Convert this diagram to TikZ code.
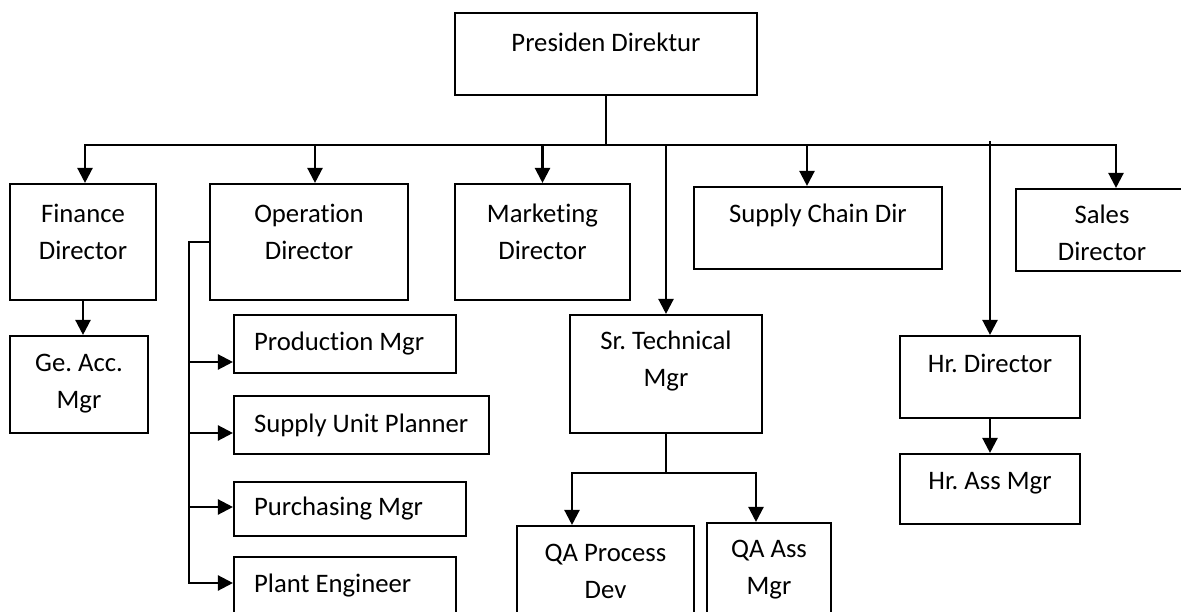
\documentclass[tikz,border=0pt]{standalone}
\usepackage{fontspec}
\setmainfont{Carlito}[Ligatures=NoCommon]
\usetikzlibrary{arrows.meta}
\frenchspacing

\begin{document}
\begin{tikzpicture}[x=1pt, y=-1pt,
    unit/.style={draw, rectangle, line width=2.1pt, inner sep=0pt},
    lbl/.style={align=center, inner sep=0pt, font=\fontsize{26.7}{37}\selectfont},
    link/.style={line width=2.3pt},
    arr/.style={link, -{Triangle[length=15pt, width=15pt]}}]

    \useasboundingbox (0,0) rectangle (1181,612);
    \clip (0,0) rectangle (1181,612);

    % === PRESIDEN ===
    \node[unit, minimum width=302pt, minimum height=82pt] (pres) at (606,54) {};
    \node[lbl] (pres-t) at ([yshift=12pt]pres.center) {Presiden Direktur};

    % === DIREKTUR ROW ===
    \node[unit, minimum width=146pt, minimum height=116pt] (fin) at (83,242) {};
    \node[lbl] (fin-t) at ([yshift=10.5pt]fin.center) {Finance\\Director};

    \node[unit, minimum width=198pt, minimum height=116pt] (ope) at (309,242) {};
    \node[lbl] (ope-t) at ([yshift=10.5pt]ope.center) {Operation\\Director};

    \node[unit, minimum width=175pt, minimum height=116pt] (mkt) at (542.5,242) {};
    \node[lbl] (mkt-t) at ([yshift=10.5pt]mkt.center) {Marketing\\Director};

    \node[unit, minimum width=248pt, minimum height=82pt] (scd) at (818,228) {};
    \node[lbl] (scd-t) at ([yshift=13pt]scd.center) {Supply Chain Dir};

    \node[unit, minimum width=172pt, minimum height=82pt] (sls) at (1102,230) {};
    \node[lbl] (sls-t) at ([yshift=-2.5pt]sls.center) {Sales\\Director};

    % === FINANCE ===
    \node[unit, minimum width=138pt, minimum height=97pt] (gea) at (79,384.5) {};
    \node[lbl] (gea-t) at ([yshift=1pt]gea.center) {Ge. Acc.\\Mgr};

    % === OPERATION ===
    \node[unit, minimum width=222pt, minimum height=58pt] (prd) at (345,344) {};
    \node[lbl, anchor=west] (prd-t) at ([xshift=21pt]prd.west) {Production Mgr};

    \node[unit, minimum width=255pt, minimum height=58pt] (sup) at (361.5,425) {};
    \node[lbl, anchor=west] (sup-t) at ([xshift=21pt]sup.west) {Supply Unit Planner};

    \node[unit, minimum width=232pt, minimum height=54pt] (pur) at (350,509) {};
    \node[lbl, anchor=west] (pur-t) at ([xshift=21pt]pur.west) {Purchasing Mgr};

    \node[unit, minimum width=222pt, minimum height=58pt] (plt) at (345,586) {};
    \node[lbl, anchor=west] (plt-t) at ([xshift=21pt]plt.west) {Plant Engineer};

    % === TECHNICAL ===
    \node[unit, minimum width=192pt, minimum height=118pt] (srt) at (666,374) {};
    \node[lbl] (srt-t) at ([yshift=12.5pt]srt.center) {Sr. Technical\\Mgr};

    \node[unit, minimum width=177pt, minimum height=90pt] (qap) at (605.5,571) {};
    \node[lbl] (qap-t) at (qap.center) {QA Process\\Dev};

    \node[unit, minimum width=124pt, minimum height=93pt] (qaa) at (769,569.5) {};
    \node[lbl] (qaa-t) at (qaa.center) {QA Ass\\Mgr};

    % === HR ===
    \node[unit, minimum width=180pt, minimum height=82pt] (hrd) at (990,377) {};
    \node[lbl] (hrd-t) at ([yshift=14pt]hrd.center) {Hr. Director};

    \node[unit, minimum width=180pt, minimum height=70pt] (hra) at (990,489) {};
    \node[lbl] (hra-t) at ([yshift=6pt]hra.center) {Hr. Ass Mgr};

    % === CONNECTORS ===
    \coordinate (busL) at (85,145);
    \coordinate (busR) at (1116,145);
    \draw[arr] (pres.south) |- (busL) -- (busL |- fin.north);
    \draw[arr] (pres.south) |- (busR) -- (busR |- sls.north);
    \draw[arr] ([xshift=6pt]ope.north |- busL) -- ([xshift=6pt]ope.north);
    \draw[arr] (mkt.north |- busL) -- (mkt.north);
    \draw[arr] (srt.north |- busL) -- (srt.north);
    \draw[arr] ([xshift=-11pt]scd.north |- busL) -- ([xshift=-11pt]scd.north);
    \draw[arr] ([yshift=4pt]hrd.north |- busL) -- (hrd.north);

    \draw[arr] (fin.south) -- (fin.south |- gea.north);

    % operation tree
    \coordinate (trunk) at (189,583);
    \draw[arr] (ope.west) -| (trunk) -- (trunk -| plt.west);
    \draw[arr] ([yshift=-18pt]prd.west -| trunk) -- ([yshift=-18pt]prd.west);
    \draw[arr] ([yshift=-8pt]sup.west -| trunk) -- ([yshift=-8pt]sup.west);
    \draw[arr] ([yshift=2pt]pur.west -| trunk) -- ([yshift=2pt]pur.west);

    % technical split
    \coordinate (qaL) at (572,473);
    \coordinate (qaR) at (756,473);
    \draw[arr] (srt.south |- qaL) -- (qaL) -- (qaL |- qap.north);
    \draw[arr] (srt.south) -- (srt.south |- qaR) -- (qaR) -- (qaR |- qaa.north);

    \draw[arr] (hrd.south) -- (hra.north);

\end{tikzpicture}
\end{document}
